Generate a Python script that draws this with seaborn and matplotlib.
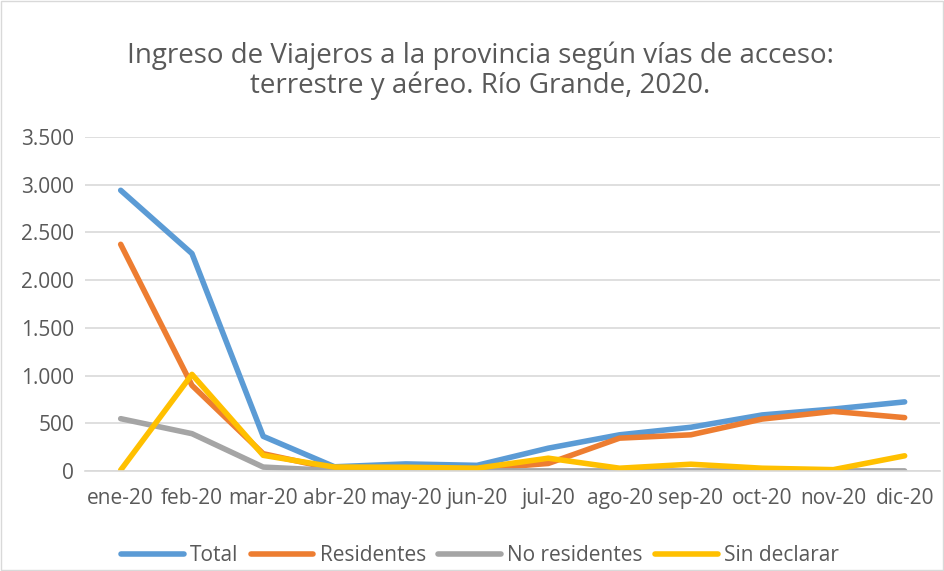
import pandas as pd
import matplotlib.pyplot as plt
import seaborn as sns
from matplotlib.ticker import FuncFormatter, FixedLocator
from matplotlib.patches import Rectangle

# Monthly values
months = ['ene-20', 'feb-20', 'mar-20', 'abr-20', 'may-20', 'jun-20',
          'jul-20', 'ago-20', 'sep-20', 'oct-20', 'nov-20', 'dic-20']
total = [2942, 2279, 364, 45, 75, 60, 240, 380, 459, 588, 650, 725]
residentes = [2376, 898, 182, 20, 30, 20, 80, 345, 380, 545, 625, 560]
no_residentes = [549, 392, 42, 5, 2, 2, 2, 2, 2, 2, 2, 2]
sin_declarar = [10, 1013, 165, 42, 40, 30, 135, 30, 72, 30, 15, 160]

series_names = ['Total', 'Residentes', 'No residentes', 'Sin declarar']
colors = ['#5B9BD5', '#ED7D31', '#A5A5A5', '#FFC000']

# Long-form table for seaborn
rows = []
for name, vals in zip(series_names, [total, residentes, no_residentes, sin_declarar]):
    for i, v in enumerate(vals):
        rows.append({'mes': i, 'valor': v, 'serie': name})
df = pd.DataFrame(rows)

sns.set_style('white')
plt.rcParams['font.family'] = ['Open Sans', 'DejaVu Sans']
text_color = '#595959'
lw = 4.0

fig = plt.figure(figsize=(9.45, 5.71), dpi=100)
ax = fig.add_axes([0.09, 0.175, 0.905, 0.585])

sns.lineplot(data=df, x='mes', y='valor', hue='serie', hue_order=series_names,
             palette=colors, linewidth=lw, ax=ax, legend=False,
             solid_capstyle='round', solid_joinstyle='round')

ax.set_xlim(-0.5, 11.5)
ax.set_ylim(0, 3500)
ax.set_yticks(range(0, 3501, 500))
ax.yaxis.set_major_formatter(FuncFormatter(lambda v, p: f'{int(v):,}'.replace(',', '.')))
ax.set_xticks(range(12))
ax.set_xticklabels(months)
ax.xaxis.set_minor_locator(FixedLocator([i - 0.5 for i in range(13)]))
ax.tick_params(axis='x', which='major', length=0, pad=12, labelsize=15, labelcolor=text_color)
ax.tick_params(axis='x', which='minor', length=6, color='#d9d9d9', width=1)
ax.tick_params(axis='y', length=0, labelsize=15, labelcolor=text_color, pad=8)
ax.set_xlabel('')
ax.set_ylabel('')

ax.grid(axis='y', color='#d9d9d9', linewidth=1.2)
ax.set_axisbelow(True)
for side in ['top', 'right', 'left']:
    ax.spines[side].set_visible(False)
ax.spines['bottom'].set_color('#d9d9d9')
ax.spines['bottom'].set_linewidth(1.2)

fig.text(0.508, 0.876, 'Ingreso de Viajeros a la provincia según vías de acceso:\n'
         'terrestre y aéreo. Río Grande, 2020.',
         ha='center', va='center', fontsize=20, color=text_color, linespacing=1.05)

handles = [plt.Line2D([], [], color=c, linewidth=lw, solid_capstyle='round') for c in colors]
fig.legend(handles, series_names, loc='center', bbox_to_anchor=(0.508, 0.027), ncol=4,
           frameon=False, fontsize=15, handlelength=3.0, columnspacing=0.6,
           handletextpad=0.3, labelcolor=text_color)

fig.patches.append(Rectangle((0.001, 0.001), 0.997, 0.997, transform=fig.transFigure,
                             fill=False, edgecolor='#d9d9d9', linewidth=1))

fig.savefig('out.png', dpi=100)
